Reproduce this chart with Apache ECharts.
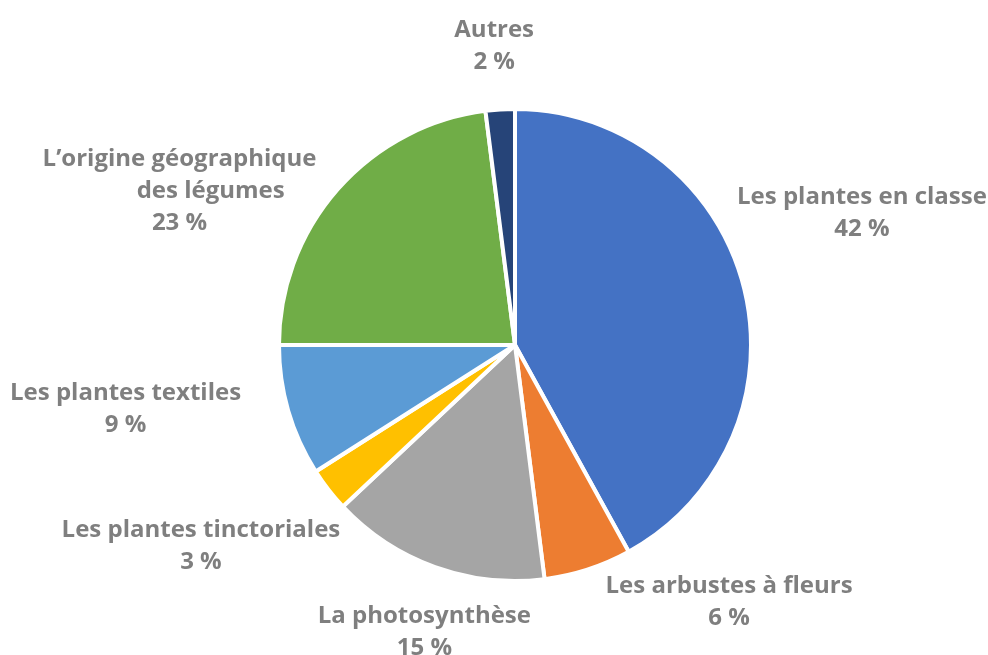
<!DOCTYPE html>
<html>
<head>
<meta charset="utf-8">
<script src="https://cdn.jsdelivr.net/npm/echarts@6/dist/echarts.min.js"></script>
<style>
  html, body { margin: 0; padding: 0; background: #fff; }
  #main { width: 988px; height: 655px; }
</style>
</head>
<body>
<div id="main"></div>
<script>
var categories = [
    'Les plantes en classe',
    'Les arbustes à fleurs',
    'La photosynthèse',
    'Les plantes tinctoriales',
    'Les plantes textiles',
    'L’origine géographique\n          des légumes',
    'Autres'
];
var values = [42, 6, 15, 3, 9, 23, 2];
var colors = ['#4472C4', '#ED7D31', '#A5A5A5', '#FFC000', '#5B9BD5', '#70AD47', '#264478'];

// petits décalages des étiquettes (placement "ajustement optimal" d'Excel)
var labelNudge = [[-28, -69], [8, 16], [106, 48], [30, 45], [-26, -7], [-4, 14], [39, -45]];

var pieData = categories.map(function (name, i) {
    return { name: name, value: values[i] };
});

var chart = echarts.init(document.getElementById('main'));

var option = {
    color: colors,
    animation: false,
    series: [{
        type: 'pie',
        center: [515, 345],
        radius: 236,
        startAngle: 90,
        clockwise: true,
        avoidLabelOverlap: false,
        data: pieData,
        itemStyle: {
            borderColor: '#fff',
            borderWidth: 4
        },
        label: {
            show: true,
            position: 'outside',
            formatter: '{b}\n{c} %',
            color: '#7F7F7F',
            fontFamily: 'Open Sans',
            fontWeight: 'bold',
            fontSize: 24,
            lineHeight: 32,
            distanceToLabelLine: 4
        },
        labelLine: {
            show: false,
            length: 18,
            length2: 0
        },
        // centre les lignes du texte comme dans Excel
        labelLayout: function (params) {
            var r = params.labelRect;
            var d = labelNudge[params.dataIndex];
            return {
                x: r.x + r.width / 2 + d[0],
                y: r.y + r.height / 2 + d[1],
                align: 'center',
                verticalAlign: 'middle'
            };
        }
    }]
};

chart.setOption(option);
</script>
</body>
</html>
